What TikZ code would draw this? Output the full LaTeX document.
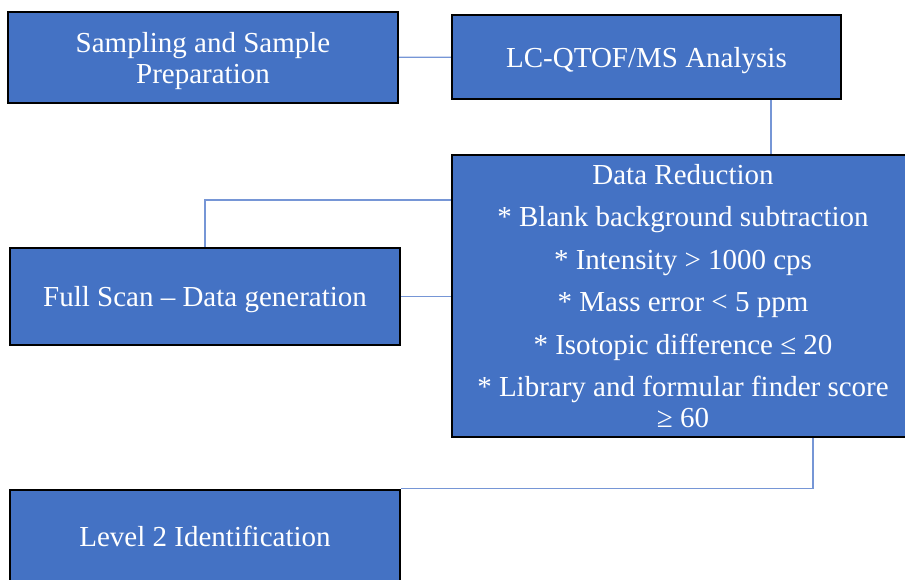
\documentclass[tikz,border=0pt]{standalone}
\usepackage{fontspec}
\setmainfont{Liberation Serif}
\usetikzlibrary{positioning}
\definecolor{boxblue}{RGB}{68,114,196}
\definecolor{linkblue}{RGB}{118,150,214}
\tikzset{
  stepbox/.style={draw=black,line width=2.4pt,fill=boxblue,text=white,align=center,
    font=\fontsize{29}{31}\selectfont,inner sep=2pt,text depth=0pt},
  link/.style={linkblue,line width=1.2pt}
}
\begin{document}
\begin{tikzpicture}[x=1pt,y=-1pt]
\useasboundingbox[clip] (0,0) rectangle (905,579);
% top row
\node[stepbox,minimum width=390pt,minimum height=91pt] (samp) at (203,57.5) {Sampling and Sample\\Preparation};
\node[stepbox,minimum width=389pt,minimum height=84pt] (lcms) at (646.5,57) {LC-QTOF/MS Analysis};
% reduction
\node[stepbox,minimum width=462pt,minimum height=282pt] (dred) at (683,296) {Data Reduction\\[11.5pt]
  * Blank background subtraction\\[11.5pt]
  * Intensity > 1000 cps\\[11.5pt]
  * Mass error < 5 ppm\\[11.5pt]
  * Isotopic difference ≤ 20\\[11.5pt]
  * Library and formular finder score\\ ≥ 60};
% left column
\node[stepbox,minimum width=390pt,minimum height=97pt] (fscan) at (205,296.5) {Full Scan – Data generation};
\node[stepbox,minimum width=390pt,minimum height=92pt] (lvl) at (205,536) {Level 2 Identification};
% connectors
\draw[link] (samp) -- (lcms);
\draw[link] ([xshift=124.5pt]lcms.south) -- ([xshift=124.5pt]lcms.south |- dred.north);
\draw[link] ([yshift=96pt]dred.west) -| (fscan.north);
\draw[link] (fscan.east) -- (fscan.east -| dred.west);
\draw[link] ([xshift=130pt]dred.south) |- (lvl.north east);
\end{tikzpicture}
\end{document}
